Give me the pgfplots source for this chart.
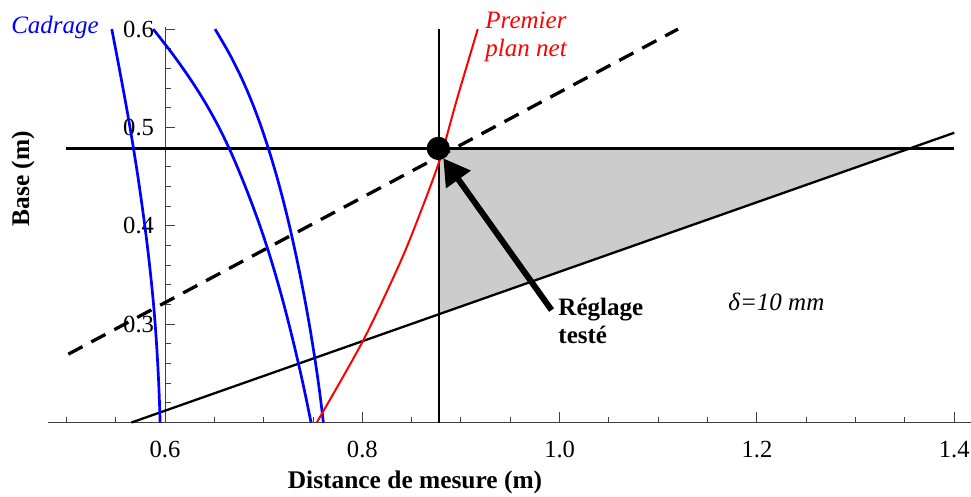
\documentclass[border=0pt]{standalone}
\usepackage{fontspec}
\setmainfont{Liberation Serif}
\usepackage{pgfplots}
\pgfplotsset{compat=1.18}
\usetikzlibrary{arrows.meta}

\begin{document}
\begin{tikzpicture}
\begin{axis}[
  x=493pt, y=491.5pt,
  xmin=0.481, xmax=1.417, ymin=0.2, ymax=0.602,
  axis x line=bottom, axis y line=left,
  axis y line shift=-58.67pt,
  axis line style={-, draw=black!75, line width=0.5pt},
  tick align=inside,
  major tick length=5pt, minor tick length=2.8pt,
  tick style={draw=black!75, line width=0.5pt},
  xtick={0.6,0.8,1.0,1.2,1.4},
  minor xtick={0.5,0.55,0.65,0.7,0.75,0.85,0.9,0.95,1.05,1.1,1.15,1.25,1.3,1.35},
  ytick={0.3,0.4,0.5,0.6},
  minor ytick={0.22,0.24,0.26,0.28,0.32,0.34,0.36,0.38,0.42,0.44,0.46,0.48,0.52,0.54,0.56,0.58},
  /pgf/number format/assume math mode=true,
  /pgf/number format/fixed,
  /pgf/number format/fixed zerofill,
  /pgf/number format/precision=1,
  tick label style={font=\fontsize{12.3}{14}\selectfont},
  xticklabel style={yshift=-6pt},
  yticklabel style={xshift=-2pt},
  clip=false,
]
% zone grise
\addplot[draw=none, fill=black!20] coordinates {(0.878,0.4787) (1.355,0.4787) (0.878,0.3102)} -- cycle;

% droites
\addplot[black, line width=1.15pt] coordinates {(0.5,0.4787) (1.4,0.4787)};
\addplot[black, line width=1.15pt] coordinates {(0.878,0.2) (0.878,0.6)};
\addplot[black, line width=1.15pt] coordinates {(0.566,0.2) (1.4,0.4946)};
\addplot[black, line width=1.65pt, dash pattern=on 8pt off 5pt] coordinates {(0.502,0.2695) (1.120,0.6)};

% cadrage
\addplot[blue, line width=1.35pt, smooth] coordinates {
  (0.546,0.6) (0.5508,0.575) (0.5555,0.55) (0.5601,0.525) (0.5645,0.5) (0.5686,0.475)
  (0.5725,0.45) (0.5761,0.425) (0.5795,0.4) (0.5826,0.375) (0.5854,0.35) (0.5879,0.325)
  (0.590,0.3) (0.5917,0.275) (0.5931,0.25) (0.5942,0.225) (0.595,0.2)};
\addplot[blue, line width=1.35pt, smooth] coordinates {
  (0.588,0.6) (0.6074,0.575) (0.6251,0.55) (0.6409,0.525) (0.6547,0.5) (0.6667,0.475)
  (0.6773,0.45) (0.6871,0.425) (0.6962,0.4) (0.7045,0.375) (0.7121,0.35) (0.7191,0.325)
  (0.7256,0.3) (0.7317,0.275) (0.7375,0.25) (0.7429,0.225) (0.748,0.2)};
\addplot[blue, line width=1.35pt, smooth] coordinates {
  (0.6507,0.6) (0.6652,0.575) (0.6777,0.55) (0.6884,0.525) (0.6977,0.5) (0.7059,0.475)
  (0.7133,0.45) (0.720,0.425) (0.7261,0.4) (0.7317,0.375) (0.7369,0.35) (0.7417,0.325)
  (0.7462,0.3) (0.7503,0.275) (0.7541,0.25) (0.7575,0.225) (0.7605,0.2)};

% premier plan net
\addplot[red, line width=1pt, smooth] coordinates {
  (0.7538,0.2) (0.801,0.2837) (0.838,0.362) (0.8585,0.4126) (0.8788,0.468) (0.8957,0.528) (0.917,0.6)};

% reglage teste
\addplot[only marks, mark=*, mark size=5.6pt, black] coordinates {(0.877,0.4787)};
\addplot[black, line width=3pt, -{Triangle[length=13pt,width=14.5pt]}] coordinates {(0.9918,0.3143) (0.8821,0.4686)};

\node[blue, font=\itshape\fontsize{12.5}{15}\selectfont, inner sep=0] at (axis cs:0.4885,0.6021) {Cadrage};
\node[red, anchor=base west, font=\itshape\fontsize{12.5}{15}\selectfont, inner sep=0] at (axis cs:0.9244,0.6008) {Premier};
\node[red, anchor=base west, font=\itshape\fontsize{12.5}{15}\selectfont, inner sep=0] at (axis cs:0.9244,0.5719) {plan net};
\node[anchor=base west, font=\bfseries\fontsize{12.5}{15}\selectfont, inner sep=0] at (axis cs:0.9984,0.3092) {Réglage};
\node[anchor=base west, font=\bfseries\fontsize{12.5}{15}\selectfont, inner sep=0] at (axis cs:0.9984,0.2804) {testé};
\node[anchor=base west, font=\itshape\fontsize{12.5}{15}\selectfont, inner sep=0] at (axis cs:1.1707,0.3142) {δ=10 mm};
\node[rotate=90, font=\bfseries\fontsize{12.7}{15}\selectfont, inner sep=0] at (axis cs:0.456,0.448) {Base (m)};
\node[anchor=base, font=\bfseries\fontsize{12.7}{15}\selectfont, inner sep=0] at (axis cs:0.8534,0.1329) {Distance de mesure (m)};

\coordinate (bl) at (axis cs:0.4327,0.125);
\coordinate (tr) at (axis cs:1.417,0.6296);
\end{axis}
\pgfresetboundingbox
\path[use as bounding box] (bl) rectangle (tr);
\end{tikzpicture}
\end{document}
